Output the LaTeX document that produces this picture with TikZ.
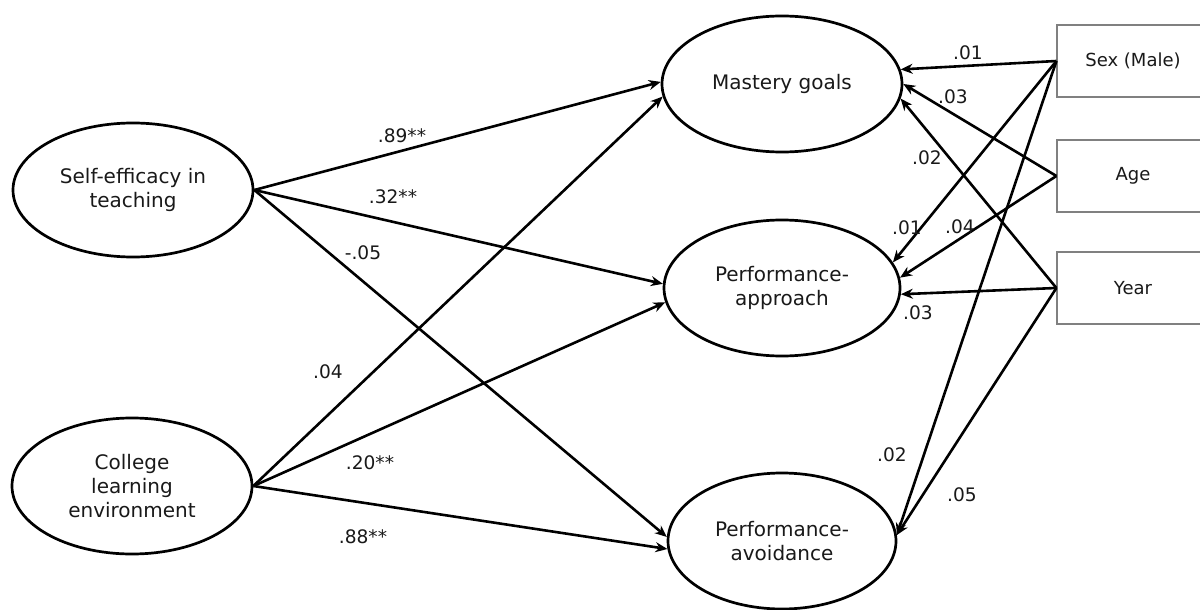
\documentclass[tikz,border=0pt]{standalone}
\usepackage{fontspec}
\setmainfont{DejaVu Sans}
\usepackage{tikz}
\usetikzlibrary{positioning, shapes.geometric, arrows.meta}

\tikzset{
    latent/.style={ellipse, draw, line width=1.35pt, inner sep=0pt, align=center, text=black!90, font=\fontsize{10}{12}\selectfont},
    observed/.style={rectangle, draw=black!50, line width=0.6pt, minimum width=76pt, minimum height=36pt, text=black!90, font=\fontsize{9}{11}\selectfont},
    effect/.style={line width=1.3pt, -{Stealth[length=6pt, width=5pt]}},
    coef/.style={inner sep=1pt, text=black!90, font=\fontsize{9.3}{11}\selectfont}
}

\begin{document}
\begin{tikzpicture}[x=0.5pt, y=-0.5pt]
        \useasboundingbox (0,0) rectangle (1200,610);
        \clip (0,0) rectangle (1200,610);
        % predictors
        \node[latent, minimum width=120pt, minimum height=67pt] (self) at (133,190) {Self-efficacy in\\teaching};
        \node[latent, minimum width=120pt, minimum height=68pt] (college) at (132,486) {College\\learning\\environment};
        % goal orientations
        \node[latent, minimum width=120pt, minimum height=68pt] (mastery) at (782,84) {Mastery goals};
        \node[latent, minimum width=118pt, minimum height=68pt] (perfapp) at (782,288) {Performance-\\approach};
        \node[latent, minimum width=114pt, minimum height=68pt] (perfavo) at (782,541) {Performance-\\avoidance};
        % covariates
        \node[observed] (sex) at (1133,61) {Sex (Male)};
        \node[observed] (age) at (1133,176) {Age};
        \node[observed] (year) at (1133,288) {Year};

        \draw[effect] (self.east) -- (mastery.179);
        \draw[effect] (self.east) -- (perfapp.178);
        \draw[effect] (self.east) -- (perfavo.178);
        \draw[effect] (college.east) -- (mastery.186);
        \draw[effect] (college.east) -- (perfapp.187);
        \draw[effect] (college.east) -- (perfavo.184);

        \draw[effect] (sex.west) -- (mastery.7);
        \draw[effect] (age.west) -- (mastery.0);
        \draw[effect] (year.west) -- (mastery.353);
        \draw[effect] (sex.west) -- (perfapp.13);
        \draw[effect] (age.west) -- (perfapp.5);
        \draw[effect] (year.west) -- (perfapp.357);
        \draw[effect] (sex.west) -- (perfavo.3);
        \draw[effect] (year.west) -- (perfavo.3);

        \node[coef] (c1) at (402,136) {.89**};
        \node[coef] (c2) at (393,197) {.32**};
        \node[coef] (c3) at (363,253) {-.05};
        \node[coef] (c4) at (328,372) {.04};
        \node[coef] (c5) at (370,463) {.20**};
        \node[coef] (c6) at (363,537) {.88**};
        \node[coef] (c7) at (968,53) {.01};
        \node[coef] (c8) at (953,97) {.03};
        \node[coef] (c9) at (927,158) {.02};
        \node[coef] (c10) at (907,228) {.01};
        \node[coef] (c11) at (960,227) {.04};
        \node[coef] (c12) at (918,313) {.03};
        \node[coef] (c13) at (892,455) {.02};
        \node[coef] (c14) at (962,495) {.05};
\end{tikzpicture}
\end{document}
